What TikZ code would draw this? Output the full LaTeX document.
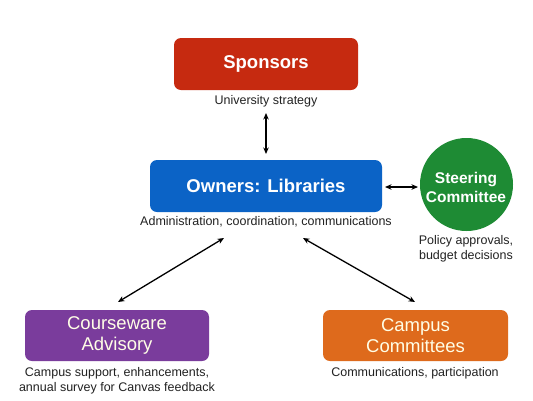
\documentclass[tikz,border=0pt]{standalone}
\usepackage{fontspec}
\setmainfont{Liberation Sans}
\usetikzlibrary{arrows.meta}
\definecolor{cred}{HTML}{C62A10}
\definecolor{cblue}{HTML}{0B63C6}
\definecolor{cgreen}{HTML}{1E8B34}
\definecolor{cpurple}{HTML}{7A3C9C}
\definecolor{corange}{HTML}{DE6A1C}
\definecolor{ctext}{HTML}{222222}
\begin{document}
\begin{tikzpicture}[x=1pt,y=-1pt,
  box/.style={rounded corners=7pt, inner sep=0pt, text=white, align=center},
  boldlbl/.style={font=\fontsize{18.5}{21}\selectfont\bfseries},
  plainlbl/.style={font=\fontsize{18.5}{21}\selectfont, text=white!90!yellow},
  captext/.style={font=\fontsize{12.5}{15}\selectfont, text=ctext, align=center},
  conn/.style={{Stealth[length=6.5pt,width=5.5pt]}-{Stealth[length=6.5pt,width=5.5pt]}, line width=1.3pt, black}]
\useasboundingbox (0,0) rectangle (533,400);
\fill[white] (0,0) rectangle (533,400);
\node[box, fill=cred, minimum width=184pt, minimum height=52pt, boldlbl] (spons) at (266,64) {Sponsors};
\node[captext] (sponscap) at (266,101) {University strategy};
\node[box, fill=cblue, minimum width=232pt, minimum height=52pt, boldlbl] (own) at (266,186) {Owners: Libraries};
\node[captext] (owncap) at (266,222) {Administration, coordination, communications};
\node[circle, fill=cgreen, minimum size=93pt, inner sep=0pt] (steer) at (466.5,184.5) {};
\node[text=white, align=center, inner sep=0pt, font=\fontsize{15.5}{19}\selectfont\bfseries] (steertxt) at (466,187.5) {Steering\\Committee};
\node[captext] (steercap) at (466,248.5) {Policy approvals,\\budget decisions};
\node[box, fill=cpurple, minimum width=184pt, minimum height=51pt, plainlbl] (course) at (117,335.5) {Courseware\\Advisory};
\node[captext] (coursecap) at (117,380.5) {Campus support, enhancements,\\annual survey for Canvas feedback};
\node[box, fill=corange, minimum width=185pt, minimum height=51pt, plainlbl] (campus) at (415.5,335.5) {Campus\\Committees};
\node[captext] (campuscap) at (415,373) {Communications, participation};
\coordinate (a1) at (266,113);
\coordinate (a2) at (266,154);
\draw[conn] (a1) -- (a2);
\coordinate (b1) at (385,187);
\coordinate (b2) at (418,187);
\draw[conn] (b1) -- (b2);
\coordinate (c1) at (118,302);
\coordinate (c2) at (224,238);
\draw[conn] (c1) -- (c2);
\coordinate (d1) at (415,302);
\coordinate (d2) at (303,238);
\draw[conn] (d1) -- (d2);
\end{tikzpicture}
\end{document}
